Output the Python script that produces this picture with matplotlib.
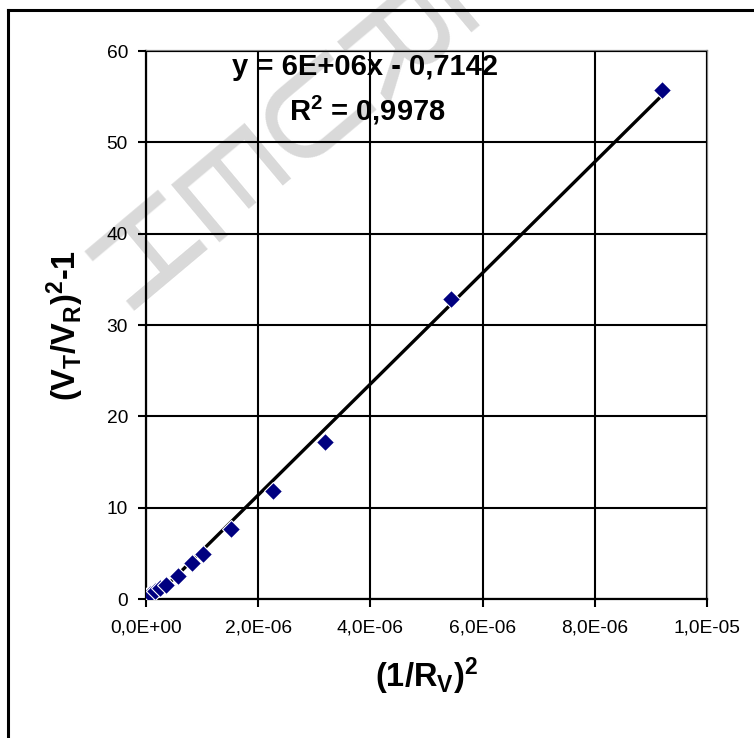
import numpy as np
import matplotlib as mpl
import matplotlib.pyplot as plt
from matplotlib.ticker import FuncFormatter, MultipleLocator
from matplotlib.lines import Line2D

mpl.use("Agg")

# data
inv_rv_sq = [0.02e-6, 0.07e-6, 0.16e-6, 0.25e-6, 0.36e-6, 0.57e-6, 0.82e-6,
             1.02e-6, 1.52e-6, 2.26e-6, 3.19e-6, 5.44e-6, 9.19e-6]
ratio_sq_minus_1 = [0.3, 0.6, 0.9, 1.2, 1.5, 2.5, 3.9,
                    4.9, 7.7, 11.8, 17.2, 32.9, 55.7]
equation_text = "y = 6E+06x - 0,7142"
r2_text = "R$^\\mathbf{2}$ = 0,9978"
watermark = "HEURE"

plt.rcParams.update({"font.family": "Liberation Sans"})
plt.rcParams.update({"mathtext.fontset": "custom"})
plt.rcParams.update({"mathtext.rm": "Liberation Sans"})
plt.rcParams.update({"mathtext.bf": "Liberation Sans:bold"})
plt.rcParams.update({"mathtext.it": "Liberation Sans:italic"})

fig = plt.figure(figsize=(7.54, 7.38), dpi=100)
fig.patch.set_facecolor("white")
ax = fig.add_axes([146 / 754, 1 - 599 / 738, 561 / 754, 548 / 738])
ax.patch.set_facecolor("none")

# watermark, one letter at a time, under everything
for i, letter in enumerate(watermark):
    px = 132 + 84 * i
    py = 266 - 70 * i
    fig.text(px / 754, 1 - py / 738, letter, fontsize=100, color="#d9d9d9",
             rotation=-50, ha="center", va="center", zorder=-5)

# figure border (right and bottom cut off in the original)
fig.add_artist(Line2D([8 / 754, 8 / 754], [0, 1 - 10 / 738], color="black", lw=2.2))
fig.add_artist(Line2D([8 / 754, 1], [1 - 10 / 738, 1 - 10 / 738], color="black", lw=2.2))

x = np.array(inv_rv_sq)
y = np.array(ratio_sq_minus_1)
slope, intercept = np.polyfit(x, y, 1)
x_fit = np.array([0, x.max()])

ax.plot(x_fit, slope * x_fit + intercept, color="black", lw=2.4, zorder=2)
ax.plot(x, y, linestyle="none", marker="D", markersize=9.5,
        markerfacecolor="#000080", markeredgecolor="white", markeredgewidth=0.8,
        zorder=3)

ax.set_xlim(0, 1e-5)
ax.set_ylim(0, 60)
ax.xaxis.set_major_locator(MultipleLocator(2e-6))
ax.yaxis.set_major_locator(MultipleLocator(10))
ax.xaxis.set_major_formatter(FuncFormatter(lambda v, p: f"{v:.1E}".replace(".", ",")))

ax.set_axisbelow(False)
ax.grid(True, color="black", lw=1.5, zorder=2.5)

for side in ["left", "bottom"]:
    ax.spines[side].set_color("black")
    ax.spines[side].set_linewidth(1.6)
for side in ["top", "right"]:
    ax.spines[side].set_color("#808080")
    ax.spines[side].set_linewidth(1.6)

ax.tick_params(axis="both", direction="out", length=6, width=1.5, labelsize=13.8)
ax.tick_params(axis="x", pad=9)
ax.tick_params(axis="y", pad=7)
ax.tick_params(top=False, right=False)

ax.text(0.390, 0.971, equation_text, transform=ax.transAxes, fontsize=21,
        fontweight="bold", ha="center", va="center", zorder=1)
ax.text(0.395, 0.892, r2_text, transform=ax.transAxes, fontsize=21,
        fontweight="bold", ha="center", va="center", zorder=1)

ax.text(0.5, -0.1405, "(1/R$_\\mathbf{V}$)$^\\mathbf{2}$", transform=ax.transAxes,
        fontsize=23.5, fontweight="bold", ha="center", va="center")
ax.text(-0.1444, 0.5, "(V$_\\mathbf{T}$/V$_\\mathbf{R}$)$^\\mathbf{2}$-1",
        transform=ax.transAxes, fontsize=23.5, fontweight="bold",
        ha="center", va="center", rotation=90)

plt.savefig("out.png", dpi=100)
plt.close()
